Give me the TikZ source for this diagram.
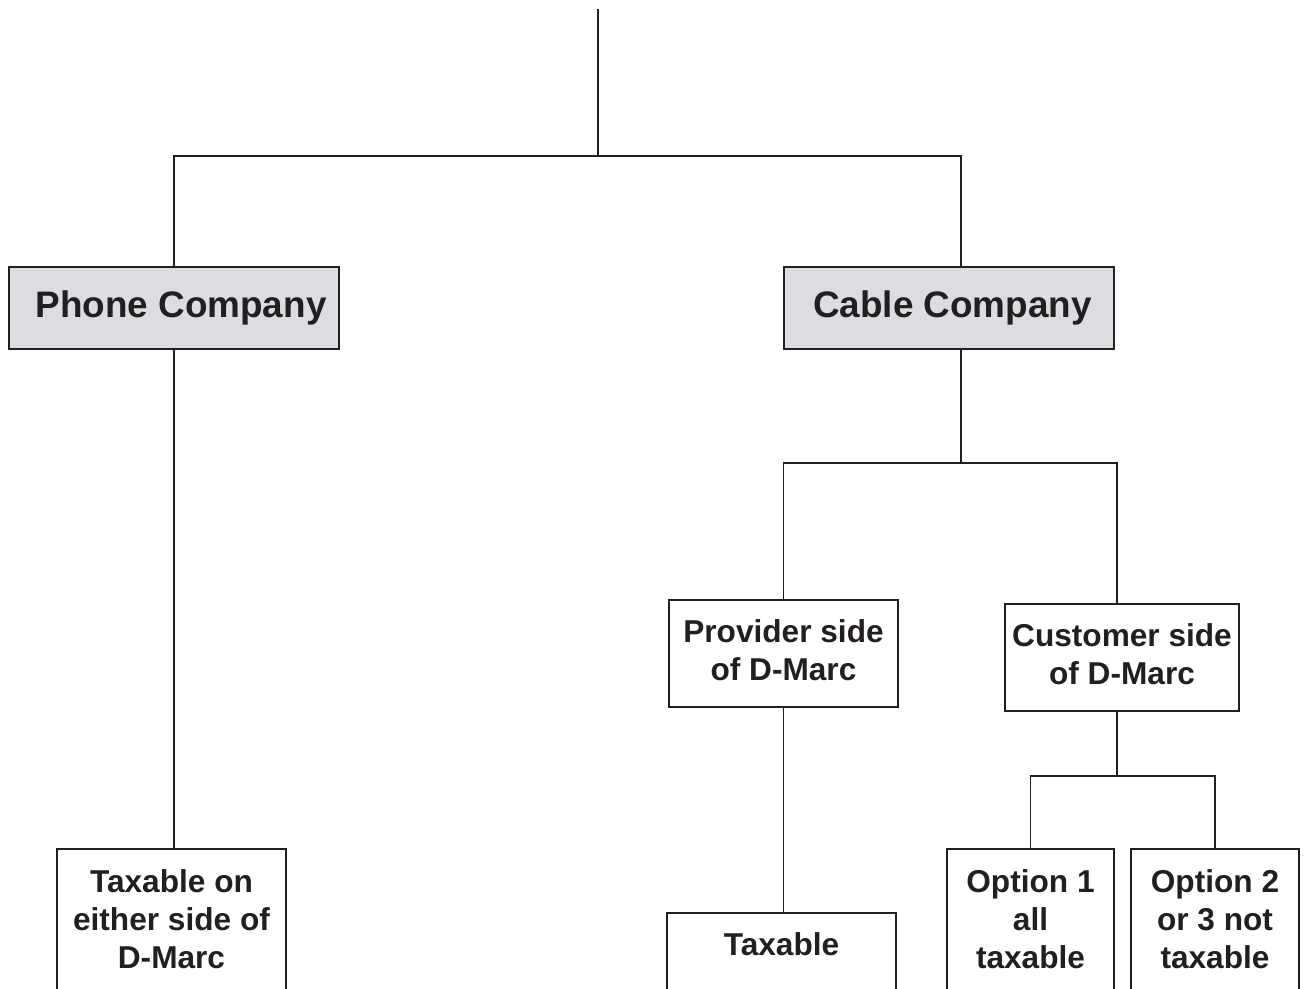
\documentclass[tikz,border=0pt]{standalone}
\usepackage{fontspec}
\setmainfont{Liberation Sans}
\usepackage{tikz}
\usetikzlibrary{positioning, calc}

\definecolor{inkgray}{HTML}{231F20}
\definecolor{boxgray}{HTML}{DCDDE0}

\tikzset{
  company/.style={draw=inkgray, line width=0.7pt, fill=boxgray, minimum width=6.6cm, minimum height=1.64cm,
    font=\fontsize{21}{25}\selectfont\bfseries, text=inkgray, inner sep=0pt},
  sidebox/.style={draw=inkgray, line width=0.7pt, fill=white, minimum height=2.14cm, align=center,
    font=\fontsize{18}{21.6}\selectfont\bfseries, text=inkgray, inner sep=0pt, text depth=3.4pt},
  leafbox/.style={sidebox, minimum height=2.92cm},
  link/.style={draw=inkgray, line width=0.7pt}
}

\begin{document}
\begin{tikzpicture}[x=0.02cm, y=-0.02cm]
  \clip (0,0) rectangle (1305,989);
  \fill[white] (0,0) rectangle (1305,989);

  % first level
  \coordinate (top) at (598,9);
  \coordinate (split1) at (598,156);
  \coordinate (cabin) at (961,156);
  \node[company] (phone) at (174,308) {\hspace{8pt}Phone Company};
  \node[company] (cable) at (949,308) {\hspace{4pt}Cable Company};

  % cable company branches
  \coordinate (split2) at (961,463);
  \coordinate (custin) at (1117,463);
  \node[sidebox, minimum width=4.58cm] (provider) at (783.5,653.5) {Provider side\\of D-Marc};
  \node[sidebox, minimum width=4.68cm] (customer) at (1122,657.5) {Customer side\\of D-Marc};

  % customer options
  \coordinate (split3) at (1117,776);
  \node[leafbox, minimum width=3.34cm] (opt1) at (1030.5,922) {Option 1\\all\\taxable};
  \node[leafbox, minimum width=3.36cm] (opt2) at (1215,922) {Option 2\\or 3 not\\taxable};

  % leaves
  \node[leafbox, minimum width=4.58cm] (eitherside) at (171.5,922) {Taxable on\\either side of\\D-Marc};
  \node[sidebox, minimum width=4.58cm, minimum height=1.68cm, text depth=12pt] (taxable) at (781.5,955) {Taxable};

  % connectors
  \draw[link] (top) -- (split1);
  \draw[link] (phone.north) |- (cabin) -- (cabin |- cable.north);
  \draw[link] (cabin |- cable.south) -- (split2);
  \draw[link] (provider.north) |- (custin) -- (custin |- customer.north);
  \draw[link] (custin |- customer.south) -- (split3);
  \draw[link] (opt1.north) |- (split3) -| (opt2.north);
  \draw[link] (phone.south) -- (phone.south |- eitherside.north);
  \draw[link] (provider.south) -- (provider.south |- taxable.north);
\end{tikzpicture}
\end{document}
